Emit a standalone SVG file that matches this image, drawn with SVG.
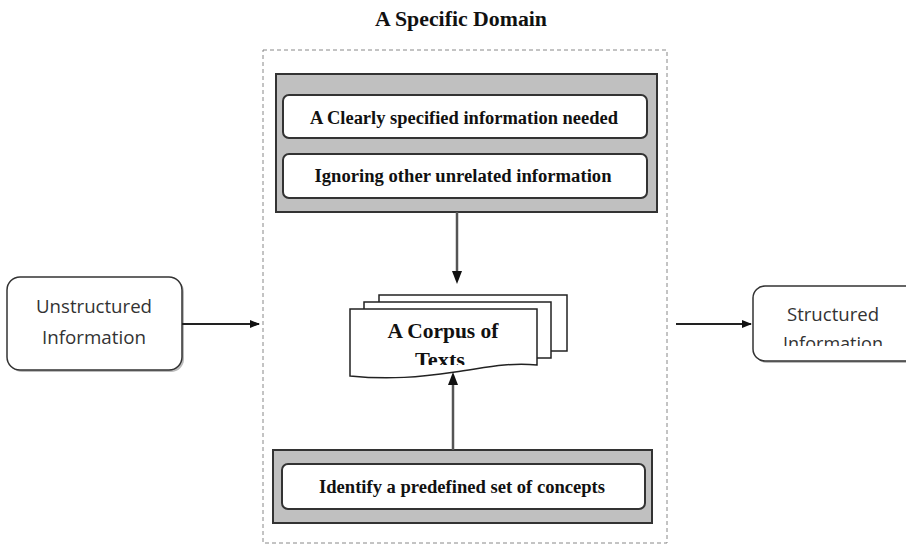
<svg xmlns="http://www.w3.org/2000/svg" width="906" height="544" viewBox="0 0 906 544">
  <style>
    .serif { font-family: "Liberation Serif", "Times New Roman", serif; font-weight: bold; fill: #111; text-anchor: middle; }
    .sans { font-family: "Open Sans", "Liberation Sans", sans-serif; fill: #333; text-anchor: middle; font-size: 18px; }
    .panel { fill: #c0c0c0; stroke: #333; stroke-width: 2; }
    .item { fill: #fff; stroke: #333; stroke-width: 2; }
    .page { fill: #fff; stroke: #222; stroke-width: 1.5; }
    .term { fill: #fff; stroke: #333; stroke-width: 1.5; }
    .shadow { fill: #bbb; }
    .link { stroke: #222; stroke-width: 2; fill: none; marker-end: url(#arrow); }
    .vlink { stroke: #555; stroke-width: 2.5; fill: none; }
  </style>
  <defs>
    <marker id="arrow" viewBox="0 0 10 10" refX="9" refY="5" markerWidth="5" markerHeight="5" orient="auto" markerUnits="strokeWidth">
      <path d="M0,1 L10,5 L0,9 Z" fill="#111"/>
    </marker>
    <clipPath id="textsClip">
      <rect x="350" y="340" width="187" height="25"/>
    </clipPath>
    <clipPath id="rightClip">
      <rect x="740" y="280" width="166" height="66"/>
    </clipPath>
  </defs>

  <rect width="906" height="544" fill="#fff"/>

  <!-- domain boundary -->
  <g id="domain">
    <text class="serif" x="461" y="26" font-size="20" textLength="172" lengthAdjust="spacingAndGlyphs">A Specific Domain</text>
    <rect x="263" y="50" width="404" height="493" fill="none" stroke="#888" stroke-width="1" stroke-dasharray="4,3"/>
  </g>

  <!-- requirements panel -->
  <g id="requirements">
    <rect class="panel" x="276" y="74" width="381" height="138"/>
    <rect class="item" x="283" y="95" width="364" height="43" rx="6"/>
    <text class="serif" x="464" y="124" font-size="18" textLength="308" lengthAdjust="spacingAndGlyphs">A Clearly specified information needed</text>
    <rect class="item" x="283" y="154" width="364" height="44" rx="6"/>
    <text class="serif" x="463" y="182" font-size="18" textLength="297" lengthAdjust="spacingAndGlyphs">Ignoring other unrelated information</text>
  </g>

  <!-- concepts panel -->
  <g id="concepts">
    <rect class="panel" x="273" y="450" width="379" height="73"/>
    <rect class="item" x="282" y="464" width="363" height="45" rx="6"/>
    <text class="serif" x="462" y="493" font-size="18" textLength="286" lengthAdjust="spacingAndGlyphs">Identify a predefined set of concepts</text>
  </g>

  <!-- corpus: stacked pages -->
  <g id="corpus">
    <rect class="page" x="379" y="295" width="188" height="56"/>
    <rect class="page" x="364" y="302" width="187" height="56"/>
    <path class="page" d="M350,309 H537 V365 C505,362 480,369 455,372 C420,377 390,380 350,376 Z"/>
    <text class="serif" x="443" y="338" font-size="20" textLength="111" lengthAdjust="spacingAndGlyphs">A Corpus of</text>
    <g clip-path="url(#textsClip)">
      <text class="serif" x="440" y="367" font-size="20" textLength="50" lengthAdjust="spacingAndGlyphs">Texts</text>
    </g>
  </g>

  <!-- input node -->
  <g id="unstructured">
    <rect class="shadow" x="9" y="279" width="175" height="93" rx="13"/>
    <rect class="term" x="7" y="277" width="175" height="93" rx="13"/>
    <text class="sans" x="94" y="313" textLength="116" lengthAdjust="spacingAndGlyphs">Unstructured</text>
    <text class="sans" x="94" y="344" textLength="104" lengthAdjust="spacingAndGlyphs">Information</text>
  </g>

  <!-- output node -->
  <g id="structured">
    <rect class="shadow" x="755" y="288" width="170" height="75" rx="12"/>
    <rect class="term" x="753" y="286" width="170" height="75" rx="12"/>
    <text class="sans" x="833" y="321" textLength="92" lengthAdjust="spacingAndGlyphs">Structured</text>
    <g clip-path="url(#rightClip)">
      <text class="sans" x="833" y="350" textLength="100" lengthAdjust="spacingAndGlyphs">Information</text>
    </g>
  </g>

  <!-- connectors -->
  <g id="connectors">
    <line class="link" x1="182" y1="324" x2="259" y2="324"/>
    <line class="link" x1="676" y1="324" x2="751" y2="324"/>
    <line class="vlink" x1="457" y1="212" x2="457" y2="274"/>
    <path d="M452,271 L462,271 L457,284 Z" fill="#111"/>
    <line class="vlink" x1="453" y1="450" x2="453" y2="382" stroke="#222"/>
    <path d="M448,385 L458,385 L453,372 Z" fill="#111"/>
  </g>
</svg>
